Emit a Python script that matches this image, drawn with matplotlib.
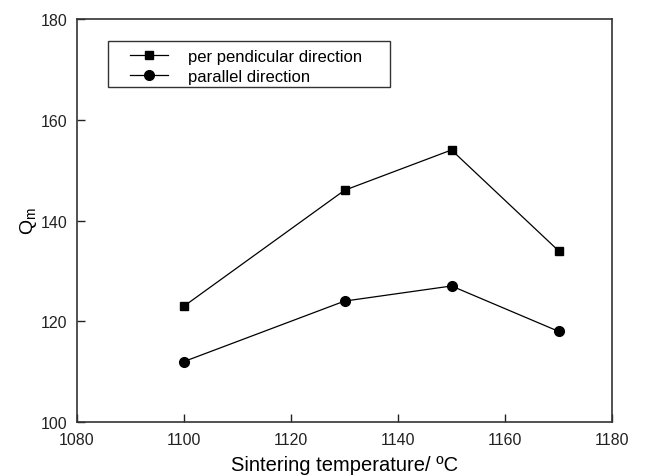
import matplotlib.pyplot as plt
from matplotlib.patches import Rectangle

plt.rcParams['font.family'] = ['Liberation Sans', 'DejaVu Sans']

temps = [1100, 1130, 1150, 1170]
perp = [123, 146, 154, 134]
para = [112, 124, 127, 118]

fig = plt.figure(figsize=(6.57, 4.77), dpi=100)
ax = fig.add_axes([77 / 657, 1 - 423 / 477, (612 - 77) / 657, (423 - 20) / 477])

ax.plot(temps, perp, color='black', lw=0.9, marker='s', ms=6, label='per pendicular direction')
ax.plot(temps, para, color='black', lw=0.9, marker='o', ms=7, label='parallel direction')

ax.set_xlim(1080, 1180)
ax.set_ylim(100, 180)
ax.set_xticks(range(1080, 1181, 20))
ax.set_yticks(range(100, 181, 20))
ax.tick_params(direction='in', length=6, width=1, labelsize=11.5, top=False, right=False,
               colors='#222222')
ax.tick_params(axis='x', pad=7)
ax.tick_params(axis='y', pad=7)
for s in ax.spines.values():
    s.set_linewidth(1.2)
    s.set_color('#333333')

ax.set_xlabel('Sintering temperature/ \u00baC', fontsize=14.5, labelpad=6)
ax.set_ylabel('Q$_\\mathregular{m}$', fontsize=14, labelpad=1)

# legend without its own frame, box drawn separately for wider margins
leg = ax.legend(loc='upper left', bbox_to_anchor=(0.099, 0.925), fontsize=12,
                frameon=False, handlelength=2.3, borderpad=0, borderaxespad=0,
                labelspacing=0.3, handletextpad=1.2)
ax.add_patch(Rectangle((0.058, 0.831), 0.527, 0.114, transform=ax.transAxes,
                       fill=False, edgecolor='#333333', lw=1.0, zorder=5))

fig.savefig('out.png', dpi=100)
